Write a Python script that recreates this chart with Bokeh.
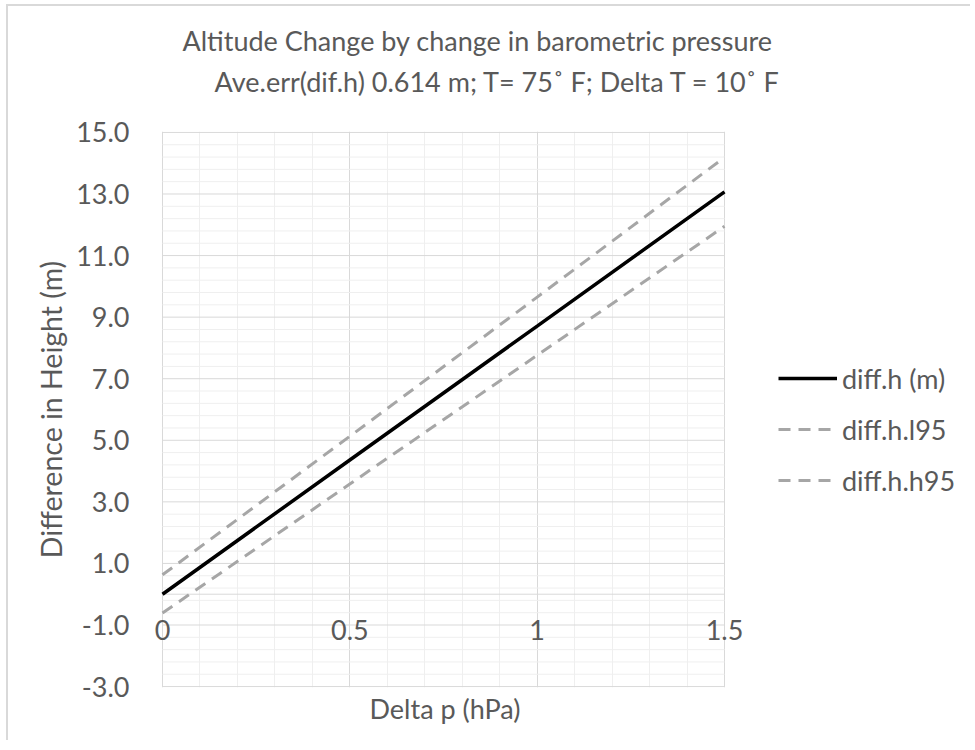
import numpy as np
from bokeh.plotting import figure
from bokeh.models import (FixedTicker, NumeralTickFormatter, CustomJSTickFormatter, Title,
                          Legend, LegendItem, Range1d, ColumnDataSource)
from bokeh.embed import file_html
from bokeh.resources import INLINE

# ---- data ----
delta_p = [0.0, 0.5, 1.0, 1.5]
diff_h = [0.0, 4.36, 8.71, 13.07]
diff_h_l95 = [-0.61, 3.58, 7.76, 11.95]
diff_h_h95 = [0.63, 5.13, 9.65, 14.19]

x_ticks = [0, 0.5, 1, 1.5]
y_ticks = [-3, -1, 1, 3, 5, 7, 9, 11, 13, 15]
x_minor_step = 0.1
y_minor_step = 0.4

title_1 = "Altitude Change by change in barometric pressure"
title_2 = "Ave.err(dif.h) 0.614 m; T= 75\u02da F; Delta T = 10\u02da F"
x_label = "Delta p (hPa)"
y_label = "Difference in Height (m)"
series_names = ["diff.h (m)", "diff.h.l95", "diff.h.h95"]

FONT = "Lato"
FS = "27px"
TXT = "#595959"
MAJOR = "#d9d9d9"
MINOR = "#efefef"

x_lo, x_hi = x_ticks[0], x_ticks[-1]
y_lo, y_hi = y_ticks[0], y_ticks[-1]

# layout in pixels: plot area 0..1.5 spans 562 px; the frame is widened so that
# edge tick labels and the legend (which sit beside the plot area) are not clipped
W, H = 970, 740
LEFT, RIGHT, TOP, BOTTOM = 151, 2, 131, 53
PLOT_PX = 562
k = PLOT_PX / (x_hi - x_lo)
pad_left_px = 11
x_start = x_lo - pad_left_px / k
x_end = x_lo + (W - RIGHT - LEFT - pad_left_px) / k

src = ColumnDataSource(dict(x=delta_p, h=diff_h, l=diff_h_l95, u=diff_h_h95))

p = figure(width=W, height=H,
           x_range=Range1d(x_start, x_end), y_range=Range1d(y_lo - 0.03, y_hi + 0.03),
           output_backend="svg", toolbar_location=None,
           min_border_left=LEFT, min_border_right=RIGHT, min_border_top=TOP, min_border_bottom=BOTTOM)
p.outline_line_color = None
p.background_fill_color = "white"
p.border_fill_alpha = 0
p.styles = {"background": "linear-gradient(#d9d9d9, #d9d9d9) 6px 4px / 2px 100% no-repeat, "
                          "linear-gradient(#d9d9d9, #d9d9d9) 6px 4px / 100% 2px no-repeat, white"}

# vertical grid lines (major + minor) through the x ticker
x_minor = [round(v, 3) for v in np.arange(x_lo, x_hi + 1e-9, x_minor_step) if round(v, 3) not in x_ticks]
y_minor = [round(v, 3) for v in np.arange(y_lo, y_hi + 1e-9, y_minor_step)]
y_minor = [v for v in y_minor if not any(abs(v - t) < 1e-6 for t in y_ticks)]
p.xaxis.ticker = FixedTicker(ticks=x_ticks, minor_ticks=x_minor)
p.yaxis.ticker = FixedTicker(ticks=y_ticks)
p.xgrid.grid_line_color = MAJOR
p.xgrid.minor_grid_line_color = MINOR
p.ygrid.grid_line_color = None

# horizontal grid lines limited to the plot area (0 .. 1.5)
hmin = ColumnDataSource(dict(x0=[x_lo] * len(y_minor), x1=[x_hi] * len(y_minor), y=y_minor))
hmaj = ColumnDataSource(dict(x0=[x_lo] * len(y_ticks), x1=[x_hi] * len(y_ticks), y=y_ticks))
p.segment(x0="x0", y0="y", x1="x1", y1="y", source=hmin, line_color=MINOR, line_width=1)
p.segment(x0="x0", y0="y", x1="x1", y1="y", source=hmaj, line_color=MAJOR, line_width=1)
# horizontal axis line at y = 0
p.segment(x0=[x_lo], y0=[0], x1=[x_hi], y1=[0], line_color=MAJOR, line_width=1)

# x axis crossing at y = 0
xa = p.xaxis[0]
xa.fixed_location = 0
xa.axis_line_color = None
xa.major_tick_line_color = None
xa.minor_tick_line_color = None
xa.major_label_standoff = 20
xa.major_label_text_font = FONT
xa.major_label_text_font_size = FS
xa.major_label_text_color = TXT
xa.formatter = CustomJSTickFormatter(code="return tick.toString();")

ya = p.yaxis[0]
ya.axis_line_color = None
ya.major_tick_line_color = None
ya.minor_tick_line_color = None
ya.major_label_standoff = 16
ya.major_label_text_font = FONT
ya.major_label_text_font_size = FS
ya.major_label_text_color = TXT
ya.formatter = NumeralTickFormatter(format="0.0")
ya.axis_label = y_label
ya.axis_label_text_font = FONT
ya.axis_label_text_font_size = "28.5px"
ya.axis_label_text_font_style = "normal"
ya.axis_label_text_color = TXT
ya.axis_label_standoff = 5

# series
r_l = p.line("x", "l", source=src, line_color="#a6a6a6", line_width=3, line_dash="12 8")
r_u = p.line("x", "u", source=src, line_color="#a6a6a6", line_width=3, line_dash="12 8")
r_h = p.line("x", "h", source=src, line_color="black", line_width=3.5)

legend = Legend(items=[LegendItem(label=series_names[0], renderers=[r_h]),
                       LegendItem(label=series_names[1], renderers=[r_l]),
                       LegendItem(label=series_names[2], renderers=[r_u])],
                location=(627, 187), padding=0, margin=0, spacing=11,
                glyph_width=59, glyph_height=40, label_standoff=5,
                border_line_color=None, background_fill_alpha=0,
                label_text_font=FONT, label_text_font_size=FS, label_text_color=TXT)
p.add_layout(legend, "center")

# titles (first added sits closest to the plot)
spacer = Title(text=" ", text_font=FONT, text_font_size="24px", standoff=0)
t2 = Title(text=title_2, align="left", offset=63, text_font=FONT, text_font_size=FS,
           text_font_style="normal", text_color=TXT, standoff=6)
t1 = Title(text=title_1, align="left", offset=31, text_font=FONT, text_font_size=FS,
           text_font_style="normal", text_color=TXT, standoff=6)
p.add_layout(spacer, "above")
p.add_layout(t2, "above")
p.add_layout(t1, "above")

tb = Title(text=x_label, align="left", offset=218, text_font=FONT, text_font_size=FS,
           text_font_style="normal", text_color=TXT, standoff=5)
p.add_layout(tb, "below")

open("out.html", "w").write(file_html(p, INLINE))
